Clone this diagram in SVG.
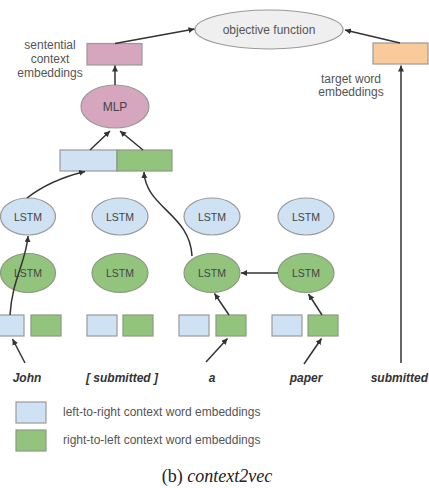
<svg xmlns="http://www.w3.org/2000/svg" width="429" height="488" viewBox="0 0 429 488">
<defs>
<marker id="ah" markerWidth="8" markerHeight="8" refX="6" refY="3" orient="auto" markerUnits="userSpaceOnUse">
<path d="M0,0 L6,3 L0,6 Z" fill="#333"/>
</marker>
<style>
.lbl{font-family:"Liberation Sans",Arial,sans-serif;font-size:12px;fill:#555;text-anchor:middle}
.node{font-family:"Liberation Sans",Arial,sans-serif;font-size:10.5px;fill:#444;text-anchor:middle}
.word{font-family:"Liberation Sans",Arial,sans-serif;font-size:12px;font-weight:bold;font-style:italic;fill:#333;text-anchor:middle}
.leg{font-family:"Liberation Sans",Arial,sans-serif;font-size:12px;fill:#555}
.blue{fill:#cfe2f3;stroke:#999;stroke-width:1.2}
.green{fill:#93c47d;stroke:#8a9a80;stroke-width:1.2}
.pink{fill:#d5a6bd;stroke:#999;stroke-width:1.2}
.orange{fill:#f9cb9c;stroke:#999;stroke-width:1.2}
.gray{fill:#efefef;stroke:#999;stroke-width:1.2}
.conn{fill:none;stroke:#333;stroke-width:1.5;marker-end:url(#ah)}
</style>
</defs>
<rect width="429" height="488" fill="#fff"/>

<g id="objective">
<ellipse class="gray" cx="269" cy="29.5" rx="74" ry="19.5"/>
<text class="lbl" x="269" y="33.5" fill="#444">objective function</text>
</g>
<g id="sentential">
<rect class="pink" x="87" y="43.5" width="55" height="21.5"/>
<text class="lbl" x="50" y="49">sentential</text>
<text class="lbl" x="50" y="63">context</text>
<text class="lbl" x="50" y="77">embeddings</text>
</g>
<g id="target">
<rect class="orange" x="373" y="43" width="55" height="21"/>
<text class="lbl" x="351" y="83">target word</text>
<text class="lbl" x="351" y="96">embeddings</text>
</g>
<g id="mlp">
<ellipse class="pink" cx="115" cy="106.5" rx="34" ry="21.5"/>
<text class="node" x="115" y="111" style="font-size:12px">MLP</text>
</g>
<g id="concat">
<rect class="blue" x="60" y="150" width="57" height="21"/>
<rect class="green" x="117" y="150" width="55" height="21"/>
</g>
<g id="lstm-lr">
<ellipse class="blue" cx="28" cy="216.5" rx="27.5" ry="18.5"/>
<text class="node" x="28" y="220.5">LSTM</text>
<ellipse class="blue" cx="120" cy="216.5" rx="28" ry="18.5"/>
<text class="node" x="120" y="220.5">LSTM</text>
<ellipse class="blue" cx="212" cy="216.5" rx="28" ry="18.5"/>
<text class="node" x="212" y="220.5">LSTM</text>
<ellipse class="blue" cx="306" cy="216.5" rx="28" ry="18.5"/>
<text class="node" x="306" y="220.5">LSTM</text>
</g>
<g id="lstm-rl">
<ellipse class="green" cx="28" cy="273" rx="27.5" ry="19.5"/>
<text class="node" x="28" y="277">LSTM</text>
<ellipse class="green" cx="120" cy="273" rx="28" ry="19.5"/>
<text class="node" x="120" y="277">LSTM</text>
<ellipse class="green" cx="212" cy="273" rx="28" ry="19.5"/>
<text class="node" x="212" y="277">LSTM</text>
<ellipse class="green" cx="306" cy="273" rx="28" ry="19.5"/>
<text class="node" x="306" y="277">LSTM</text>
</g>
<g id="word-embeddings">
<rect class="blue" x="-6" y="315" width="30" height="21"/>
<rect class="green" x="31" y="315" width="30" height="21"/>
<rect class="blue" x="87" y="315" width="30" height="21"/>
<rect class="green" x="123" y="315" width="30" height="21"/>
<rect class="blue" x="179" y="315" width="30" height="21"/>
<rect class="green" x="216" y="315" width="30" height="21"/>
<rect class="blue" x="272" y="315" width="30" height="21"/>
<rect class="green" x="308" y="315" width="30" height="21"/>
</g>
<g id="words">
<text class="word" x="27" y="382">John</text>
<text class="word" x="122" y="382">[ submitted ]</text>
<text class="word" x="212" y="382">a</text>
<text class="word" x="306" y="382">paper</text>
<text class="word" x="428" y="382" style="text-anchor:end">submitted</text>
</g>

<g id="connectors">
<path class="conn" d="M25,363 L12.5,339"/>
<path class="conn" d="M206,362 L227.5,338.5"/>
<path class="conn" d="M304,364 L321.5,338.5"/>
<path class="conn" d="M401,363 L401,65.5"/>
<path class="conn" d="M322,315 L308.5,294"/>
<path class="conn" d="M278,273 L241,273"/>
<path class="conn" d="M229,315 L214.5,293.5"/>
<path class="conn" d="M192,256 C190,214 146,208 144,172"/>
<path class="conn" d="M10,315 C12,280 26,262 28,236"/>
<path class="conn" d="M27,198 Q50,180 85,171.5"/>
<path class="conn" d="M90,150 L110,131"/>
<path class="conn" d="M143,150 L120,131"/>
<path class="conn" d="M115,85 L115,65.5"/>
<path class="conn" d="M115,43.5 L194.5,29"/>
<path class="conn" d="M400,43 L345,30"/>
</g>

<g id="legend">
<rect class="blue" x="16" y="402" width="30" height="21"/>
<text class="leg" x="63" y="416">left-to-right context word embeddings</text>
<rect class="green" x="16" y="430" width="30" height="21"/>
<text class="leg" x="63" y="444">right-to-left context word embeddings</text>
</g>
<text x="217" y="482" style="font-family:'Liberation Serif','Times New Roman',serif;font-size:18px;fill:#222" text-anchor="middle">(b) <tspan font-style="italic">context2vec</tspan></text>
</svg>
